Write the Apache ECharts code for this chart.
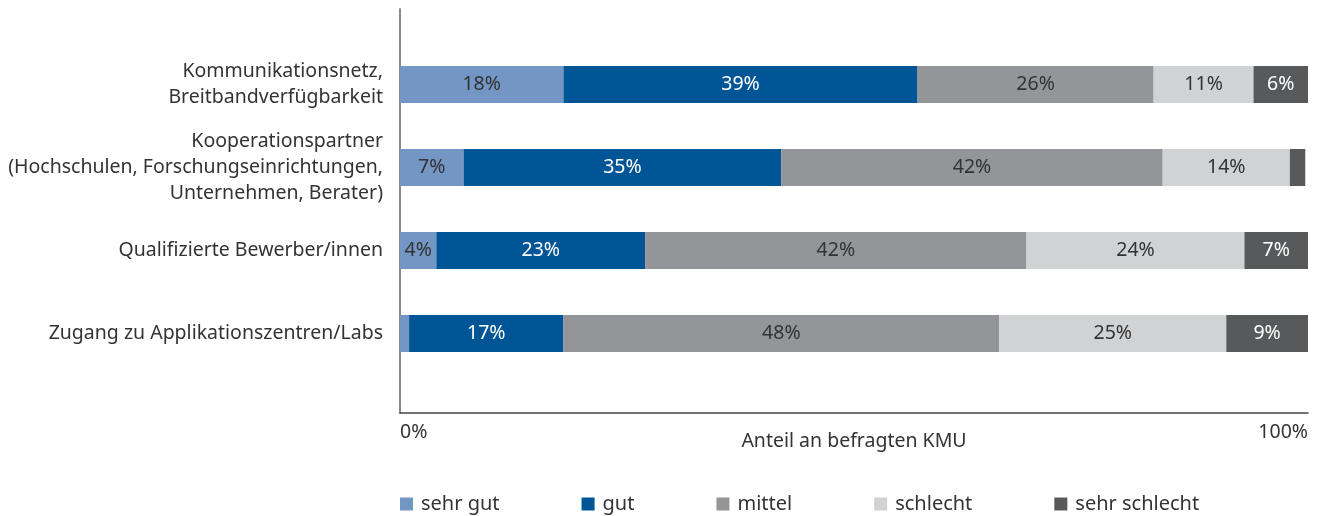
<!DOCTYPE html>
<html>
<head>
<meta charset="utf-8">
<script src="https://cdn.jsdelivr.net/npm/echarts@6/dist/echarts.min.js"></script>
<style>
  html, body { margin: 0; padding: 0; background: #fff; }
  #chart { width: 1318px; height: 516px; }
</style>
</head>
<body>
<div id="chart"></div>
<script>
// Bewertung der Standortfaktoren durch KMU (Anteile in %)
const categories = [
  'Kommunikationsnetz,\nBreitbandverfügbarkeit',
  'Kooperationspartner\n(Hochschulen, Forschungseinrichtungen,\nUnternehmen, Berater)',
  'Qualifizierte Bewerber/innen',
  'Zugang zu Applikationszentren/Labs'
];
const seriesNames = ['sehr gut', 'gut', 'mittel', 'schlecht', 'sehr schlecht'];
const sehrGut      = [18, 7, 4, 1];
const gut          = [39, 35, 23, 17];
const mittel       = [26, 42, 42, 48];
const schlecht     = [11, 14, 24, 25];
const sehrSchlecht = [6, 1.7, 7, 9];
const xTicks = [0, 100];

const colors = ['#7396c4', '#005596', '#939598', '#d1d2d4', '#58595b'];
const labelColors = ['#333333', '#ffffff', '#333333', '#333333', '#ffffff'];
const values = [sehrGut, gut, mittel, schlecht, sehrSchlecht];
const FONT = 'Noto Sans';

const chart = echarts.init(document.getElementById('chart'), null, { renderer: 'canvas' });

const series = seriesNames.map((name, i) => ({
  name: name,
  type: 'bar',
  stack: 'total',
  xAxisIndex: 1,
  yAxisIndex: 1,
  barWidth: 37,
  data: values[i],
  itemStyle: { color: colors[i] },
  label: {
    show: true,
    position: 'inside',
    color: labelColors[i],
    fontFamily: FONT,
    fontSize: 19.5,
    formatter: p => p.value >= 3 ? Math.round(p.value) + '%' : ''
  },
  emphasis: { disabled: true }
}));

chart.setOption({
  animation: false,
  textStyle: { fontFamily: FONT, color: '#333' },
  legend: {
    data: seriesNames,
    left: 400,
    top: 494,
    padding: 0,
    itemWidth: 13,
    itemHeight: 13,
    itemGap: 82,
    icon: 'rect',
    textStyle: { fontFamily: FONT, fontSize: 20, color: '#333', padding: [0, 0, 0, 3] }
  },
  grid: [
    // frame with axis lines, tick labels and axis title
    { left: 400, width: 908, top: 9, height: 404 },
    // bars
    { left: 400, width: 908, top: 43, height: 332 }
  ],
  xAxis: [
    {
      gridIndex: 0,
      type: 'value',
      min: xTicks[0],
      max: xTicks[1],
      interval: 100,
      splitLine: { show: false },
      axisTick: { show: false },
      axisLine: { show: true, lineStyle: { color: '#444', width: 1.5 } },
      axisLabel: {
        fontFamily: FONT, fontSize: 19.5, color: '#333', margin: 9,
        alignMinLabel: 'left', alignMaxLabel: 'right',
        formatter: v => v + '%'
      },
      name: 'Anteil an befragten KMU',
      nameLocation: 'middle',
      nameGap: 18,
      nameMoveOverlap: false,
      nameTextStyle: { fontFamily: FONT, fontSize: 19.5, color: '#333' }
    },
    {
      gridIndex: 1,
      type: 'value',
      min: 0,
      max: 100,
      show: false
    }
  ],
  yAxis: [
    {
      gridIndex: 0,
      type: 'category',
      data: [''],
      axisLine: { show: true, lineStyle: { color: '#8a8a8a', width: 2 } },
      axisTick: { show: false },
      axisLabel: { show: false }
    },
    {
      gridIndex: 1,
      type: 'category',
      inverse: true,
      data: categories,
      axisLine: { show: false },
      axisTick: { show: false },
      axisLabel: {
        fontFamily: FONT, fontSize: 19.5, color: '#333', margin: 17,
        align: 'right', lineHeight: 26
      }
    }
  ],
  series: series
});
</script>
</body>
</html>
